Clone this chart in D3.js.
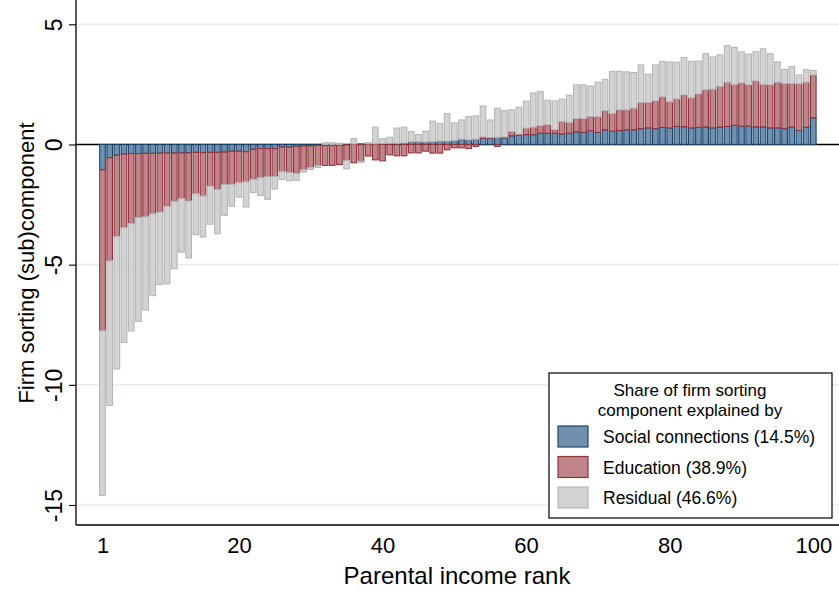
<!DOCTYPE html>
<html>
<head>
<meta charset="utf-8">
<script src="https://cdn.jsdelivr.net/npm/d3@7/dist/d3.min.js"></script>
<style>
  html, body { margin: 0; padding: 0; background: #fff; }
  svg { display: block; font-family: "Liberation Sans", Arial, sans-serif; }
</style>
</head>
<body>
<svg id="chart" width="839" height="592"></svg>
<script>
// Parental income rank (percentiles 1..100)
const ranks = d3.range(1, 101);

// Decomposition of the firm sorting component by parental income rank
const social = [
  -1.05,-0.55,-0.45,-0.40,-0.38,-0.38,-0.37,-0.37,-0.36,-0.36,
  -0.36,-0.35,-0.35,-0.33,-0.34,-0.33,-0.33,-0.32,-0.28,-0.28,
  -0.30,-0.20,-0.17,-0.17,-0.17,-0.11,-0.11,-0.08,-0.06,-0.06,
  -0.04,-0.04,-0.04,-0.03,-0.02, 0.02, 0.02, 0.03, 0.03, 0.04,
   0.05, 0.05, 0.06, 0.11, 0.11, 0.10, 0.12, 0.14, 0.14, 0.17,
   0.22, 0.19, 0.22, 0.26, 0.26, 0.30, 0.28, 0.36, 0.39, 0.41,
   0.41, 0.47, 0.47, 0.47, 0.44, 0.47, 0.53, 0.50, 0.58, 0.50,
   0.61, 0.55, 0.58, 0.61, 0.61, 0.66, 0.69, 0.66, 0.71, 0.69,
   0.75, 0.74, 0.69, 0.71, 0.73, 0.69, 0.73, 0.75, 0.80, 0.76,
   0.76, 0.73, 0.73, 0.69, 0.69, 0.66, 0.72, 0.58, 0.72, 1.11
];
const education = [
  -6.70,-4.29,-3.37,-3.06,-2.91,-2.66,-2.64,-2.51,-2.45,-2.21,
  -2.00,-1.90,-2.00,-1.72,-1.80,-1.40,-1.55,-1.35,-1.38,-1.31,
  -1.25,-1.25,-1.21,-1.17,-1.16,-1.02,-1.05,-1.12,-0.99,-0.90,
  -0.84,-0.83,-0.83,-0.81,-0.64,-0.76,-0.69,-0.48,-0.64,-0.68,
  -0.43,-0.47,-0.47,-0.35,-0.35,-0.28,-0.36,-0.36,-0.22,-0.14,
  -0.14,-0.17,-0.08, 0.05, 0.03,-0.08, 0.03, 0.18, 0.04, 0.27,
   0.31, 0.32, 0.35, 0.15, 0.51, 0.45, 0.55, 0.58, 0.58, 0.65,
   0.79, 0.74, 0.86, 0.83, 0.90, 1.08, 1.05, 1.15, 1.27, 1.08,
   1.14, 1.32, 1.25, 1.39, 1.54, 1.61, 1.69, 1.84, 1.70, 1.80,
   1.72, 1.91, 1.77, 1.79, 1.90, 1.88, 1.82, 1.94, 1.87, 1.78
];
const residual = [
  -6.85,-6.02,-5.52,-4.78,-4.47,-4.32,-3.88,-3.41,-3.01,-3.23,
  -2.81,-2.23,-2.37,-1.70,-1.71,-1.59,-1.83,-1.28,-0.91,-0.60,
  -1.05,-0.55,-0.74,-0.94,-0.52,-0.32,-0.35,-0.29,-0.10,-0.08,
  -0.08, 0.07, 0.07, 0.05,-0.35, 0.22,-0.05, 0.04, 0.69, 0.20,
   0.25, 0.63, 0.66, 0.43, 0.30, 0.45, 0.85, 0.74, 1.14, 0.73,
   0.80, 0.97, 0.97, 1.29, 0.73, 1.21, 1.10, 0.90, 1.12, 1.12,
   1.42, 1.41, 1.02, 1.19, 0.94, 1.13, 1.40, 1.40, 1.27, 1.44,
   1.31, 1.75, 1.60, 1.58, 1.48, 1.57, 1.18, 1.50, 1.48, 1.66,
   1.53, 1.56, 1.52, 1.37, 1.51, 1.34, 1.31, 1.52, 1.54, 1.29,
   1.28, 1.22, 1.48, 1.30, 0.85, 0.59, 0.70, 0.37, 0.52, 0.19
];

const seriesKeys = ["social", "education", "residual"];
const legendTitle = ["Share of firm sorting", "component explained by"];
const legendLabels = ["Social connections (14.5%)", "Education (38.9%)", "Residual (46.6%)"];
const xTicks = [1, 20, 40, 60, 80, 100];
const yTicks = [-15, -10, -5, 0, 5];

const fills   = { social: "#7190af", education: "#c0858a", residual: "#d3d3d3" };
const strokes = { social: "#1a476f", education: "#90353b", residual: "#b6b6b6" };

const rows = ranks.map((r, i) => ({
  rank: r, social: social[i], education: education[i], residual: residual[i]
}));

const svg = d3.select("#chart");

// Plot region edges
const plotL = 76, plotR = 839, plotT = 0, plotB = 525;

const x = d3.scaleLinear().domain([1, 100]).range([102.5, 813.3]);
const y = d3.scaleLinear().domain([-15, 5]).range([505, 24.3]);
const barW = (x(2) - x(1)) * 0.78;

// Horizontal grid lines
svg.append("g")
  .selectAll("line")
  .data(yTicks.filter(d => d !== 0))
  .join("line")
  .attr("x1", plotL).attr("x2", plotR)
  .attr("y1", d => y(d)).attr("y2", d => y(d))
  .attr("stroke", "#e6eef2")
  .attr("stroke-width", 1.6);

// Reference line at zero
svg.append("line")
  .attr("x1", plotL).attr("x2", plotR)
  .attr("y1", y(0)).attr("y2", y(0))
  .attr("stroke", "#000")
  .attr("stroke-width", 1.3);

// Stacked bars, positives stacked upward and negatives downward
const stacked = d3.stack()
  .keys(seriesKeys)
  .offset(d3.stackOffsetDiverging)(rows);

svg.append("g")
  .selectAll("g")
  .data(stacked)
  .join("g")
  .attr("fill", d => fills[d.key])
  .attr("stroke", d => strokes[d.key])
  .attr("stroke-width", 1.1)
  .selectAll("rect")
  .data(d => d)
  .join("rect")
  .attr("x", d => x(d.data.rank) - barW / 2)
  .attr("width", barW)
  .attr("y", d => y(Math.max(d[0], d[1])))
  .attr("height", d => Math.abs(y(d[0]) - y(d[1])));

// Y axis (plain hyphen for negative labels)
const yAxis = d3.axisLeft(y).tickValues(yTicks).tickSize(7).tickFormat(d => String(d));
const gy = svg.append("g").attr("transform", `translate(${plotL},0)`).call(yAxis);
gy.select(".domain").remove();
gy.selectAll(".tick line").attr("stroke", "#000").attr("stroke-width", 1.1);
gy.selectAll(".tick text")
  .attr("x", null).attr("dy", null)
  .attr("transform", "translate(-14,0) rotate(-90)")
  .attr("text-anchor", "middle")
  .attr("fill", "#000")
  .style("font-size", "23px")
  .style("font-family", "'Liberation Sans', Arial, sans-serif");
svg.append("line")
  .attr("x1", plotL).attr("x2", plotL)
  .attr("y1", plotT).attr("y2", plotB)
  .attr("stroke", "#000").attr("stroke-width", 1.3);

// X axis
const xAxis = d3.axisBottom(x).tickValues(xTicks).tickSize(0).tickPadding(0);
const gx = svg.append("g").attr("transform", `translate(0,${plotB})`).call(xAxis);
gx.select(".domain").remove();
gx.selectAll(".tick text")
  .attr("y", 28).attr("dy", null)
  .attr("fill", "#000")
  .style("font-size", "22px")
  .style("font-family", "'Liberation Sans', Arial, sans-serif");
svg.append("line")
  .attr("x1", plotL).attr("x2", plotR)
  .attr("y1", plotB).attr("y2", plotB)
  .attr("stroke", "#000").attr("stroke-width", 1.3);

// Axis titles
svg.append("text")
  .attr("x", 457).attr("y", 584)
  .attr("text-anchor", "middle")
  .style("font-size", "24px")
  .text("Parental income rank");

svg.append("text")
  .attr("transform", "translate(34,263) rotate(-90)")
  .attr("text-anchor", "middle")
  .style("font-size", "22px")
  .text("Firm sorting (sub)component");

// Legend
const lg = svg.append("g").attr("transform", "translate(549,373)");
lg.append("rect")
  .attr("width", 283).attr("height", 145)
  .attr("fill", "#fff").attr("stroke", "#000").attr("stroke-width", 1.2);
lg.selectAll("text.title")
  .data(legendTitle)
  .join("text")
  .attr("class", "title")
  .attr("x", 141).attr("y", (d, i) => 23 + i * 19.5)
  .attr("text-anchor", "middle")
  .style("font-size", "17px")
  .text(d => d);
const items = lg.selectAll("g.item")
  .data(seriesKeys)
  .join("g")
  .attr("class", "item")
  .attr("transform", (d, i) => `translate(9,${53 + i * 30.5})`);
items.append("rect")
  .attr("width", 30).attr("height", 21)
  .attr("fill", d => fills[d]).attr("stroke", d => strokes[d]).attr("stroke-width", 1.2);
items.append("text")
  .attr("x", 45).attr("y", 17)
  .style("font-size", "17.5px")
  .text((d, i) => legendLabels[i]);
</script>
</body>
</html>
